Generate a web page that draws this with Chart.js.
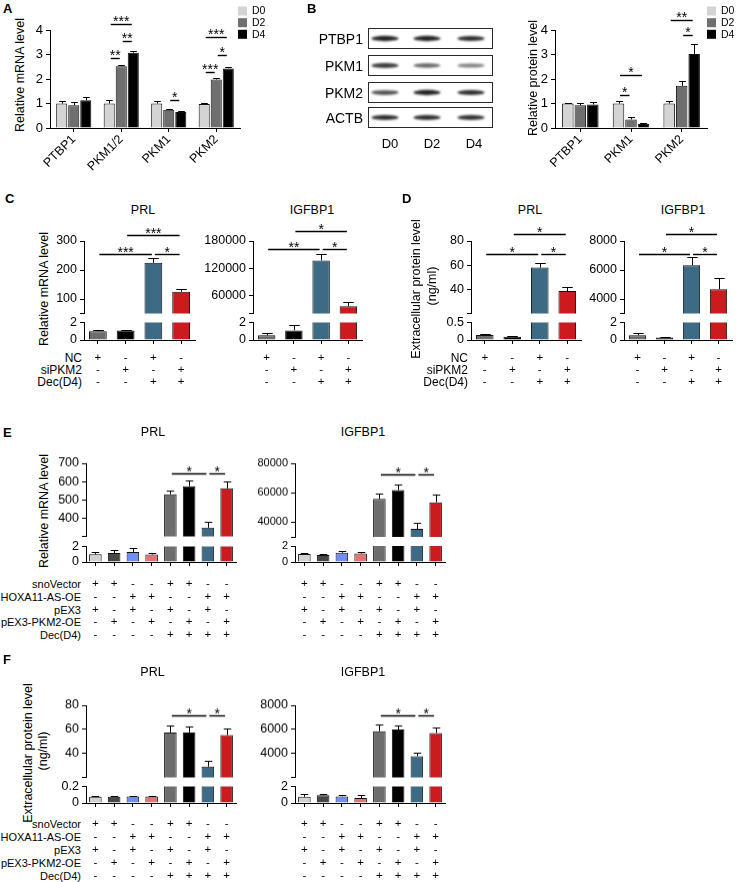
<!DOCTYPE html>
<html>
<head>
<meta charset="utf-8">
<title>PKM2 figure</title>
<script src="https://cdn.jsdelivr.net/npm/chart.js@4.4.1/dist/chart.umd.min.js"></script>
<style>
  html, body { margin: 0; padding: 0; background: #fff; }
  body { position: relative; width: 739px; height: 882px; overflow: hidden; }
  canvas { position: absolute; }
</style>
</head>
<body>
<script>
const FONT = '"Liberation Sans", Arial, Helvetica, sans-serif';

// A: relative mRNA level during decidualization
const dayLabels = ["D0", "D2", "D4"];
const dayColors = ["#d4d4d4", "#6f6f6f", "#000000"];
const mrnaGenes = ["PTBP1", "PKM1/2", "PKM1", "PKM2"];
const mrnaD0 = [1.00, 1.00, 1.00, 0.98];
const mrnaD0Err = [0.10, 0.15, 0.12, 0.03];
const mrnaD2 = [0.93, 2.52, 0.75, 1.98];
const mrnaD2Err = [0.12, 0.05, 0.03, 0.07];
const mrnaD4 = [1.13, 3.07, 0.65, 2.43];
const mrnaD4Err = [0.13, 0.08, 0.04, 0.05];
// [category, series a, series b, height, label]
const mrnaSig = [[1, 0, 1, 2.86, "**"], [1, 1, 2, 3.55, "**"], [1, 0, 2, 4.24, "***"],
                 [2, 1, 2, 1.14, "*"], [3, 0, 1, 2.3, "***"], [3, 1, 2, 3.0, "*"], [3, 0, 2, 3.7, "***"]];
const abTicks = [0, 1, 2, 3, 4];

// B: western blot + relative protein level
const blotRows = ["PTBP1", "PKM1", "PKM2", "ACTB"];
const blotBands = [[0.95, 0.95, 0.9], [0.85, 0.65, 0.55], [0.75, 0.95, 0.9], [0.9, 0.9, 0.88]];
const protGenes = ["PTBP1", "PKM1", "PKM2"];
const protD0 = [1.00, 1.00, 1.00];
const protD0Err = [0.04, 0.09, 0.10];
const protD2 = [0.93, 0.35, 1.72];
const protD2Err = [0.11, 0.08, 0.18];
const protD4 = [0.96, 0.16, 3.02];
const protD4Err = [0.09, 0.03, 0.40];
const protSig = [[1, 0, 1, 1.35, "*"], [1, 0, 2, 2.16, "*"], [2, 0, 2, 4.4, "**"], [2, 1, 2, 3.8, "*"]];

// C / D: siPKM2 knockdown
const kdRows = ["NC", "siPKM2", "Dec(D4)"];
const kdNC = ["+", "-", "+", "-"];
const kdSi = ["-", "+", "-", "+"];
const kdDec = ["-", "-", "+", "+"];
const kdColors = ["#6d6d6d", "#000000", "#3d6a85", "#cc1b1f"];
const cPrl = [1.0, 1.1, 225, 125];
const cPrlErr = [0.15, 0.1, 15, 8];
const cPrlSig = [[0, 2, 256, "***"], [2, 3, 256, "*"], [1, 3, 322, "***"]];
const cIgf = [0.55, 1.1, 137000, 36000];
const cIgfErr = [0.25, 0.6, 15000, 10000];
const cIgfSig = [[0, 2, 163000, "**"], [2, 3, 163000, "*"], [1, 3, 203000, "*"]];
const dPrl = [0.14, 0.09, 58, 38.6];
const dPrlErr = [0.02, 0.015, 4.1, 3.6];
const dPrlSig = [[0, 2, 69, "*"], [2, 3, 69, "*"], [1, 3, 85.6, "*"]];
const dIgf = [0.55, 0.28, 6330, 4680];
const dIgfErr = [0.25, 0.12, 560, 740];
const dIgfSig = [[0, 2, 7120, "*"], [2, 3, 7120, "*"], [1, 3, 8470, "*"]];

// E / F: HOXA11-AS and PKM2 overexpression
const oeRows = ["snoVector", "HOXA11-AS-OE", "pEX3", "pEX3-PKM2-OE", "Dec(D4)"];
const oeSno = ["+", "+", "-", "-", "+", "+", "-", "-"];
const oeHox = ["-", "-", "+", "+", "-", "-", "+", "+"];
const oePex = ["+", "-", "+", "-", "+", "-", "+", "-"];
const oePkm = ["-", "+", "-", "+", "-", "+", "-", "+"];
const oeDec = ["-", "-", "-", "-", "+", "+", "+", "+"];
const oeColors = ["#d2d2d2", "#474747", "#6f8ff2", "#e27474", "#6d6d6d", "#000000", "#3d6a85", "#cc1b1f"];
const ePrl = [1.0, 1.16, 1.28, 0.96, 531, 575, 348, 563];
const ePrlErr = [0.25, 0.45, 0.55, 0.2, 20, 29, 34, 40];
const ePrlSig = [[4, 6, 647, "*"], [6, 7, 647, "*"]];
const eIgf = [1.0, 0.88, 1.16, 1.05, 55800, 61800, 35500, 53500];
const eIgfErr = [0.15, 0.1, 0.2, 0.2, 3800, 3500, 4100, 5300];
const eIgfSig = [[4, 6, 72700, "*"], [6, 7, 72700, "*"]];
const fPrl = [0.075, 0.077, 0.08, 0.078, 57.4, 57.4, 29.0, 55.2];
const fPrlErr = [0.005, 0.005, 0.008, 0.006, 5.5, 4.6, 4.7, 5.5];
const fPrlSig = [[4, 6, 71.2, "*"], [6, 7, 71.2, "*"]];
const fIgf = [0.75, 0.94, 0.8, 0.6, 5840, 5980, 3760, 5700];
const fIgfErr = [0.3, 0.2, 0.23, 0.38, 570, 320, 320, 490];
const fIgfSig = [[4, 6, 7140, "*"], [6, 7, 7140, "*"]];

Chart.defaults.font.family = FONT;
Chart.defaults.font.size = 12;
Chart.defaults.color = "#000";
Chart.defaults.animation = false;
Chart.defaults.plugins.legend.display = false;
Chart.defaults.plugins.tooltip.enabled = false;

function mkCanvas(left, top, w, h) {
  const c = document.createElement("canvas");
  c.width = w; c.height = h;
  c.style.left = left + "px"; c.style.top = top + "px";
  c.style.width = w + "px"; c.style.height = h + "px";
  document.body.appendChild(c);
  return c;
}

function txt(s, x, y, o = {}) {
  const d = document.createElement("div");
  d.textContent = s;
  const tx = o.align === "right" ? "-100%" : o.align === "left" ? "0" : "-50%";
  d.style.cssText = "position:absolute;white-space:nowrap;line-height:1;color:#000;" +
    "left:" + x + "px;top:" + y + "px;font:" + (o.bold ? "bold " : "") + (o.size || 12) + "px " + FONT + ";" +
    "transform:translate(" + tx + ",-50%)" + (o.rot ? " rotate(-90deg)" : "") + ";";
  document.body.appendChild(d);
}

// error bars, significance lines and legend
const annot = {
  id: "annot",
  afterDatasetsDraw(chart, args, opts) {
    const ctx = chart.ctx, ys = chart.scales.y;
    ctx.save();
    ctx.strokeStyle = "#000";
    ctx.fillStyle = "#000";
    ctx.lineWidth = 1;
    chart.data.datasets.forEach((ds, di) => {
      if (!ds.errors) return;
      chart.getDatasetMeta(di).data.forEach((bar, i) => {
        const v = ds.data[i];
        if (v < ys.min || v > ys.max) return;
        const x = Math.round(bar.x) + 0.5;
        const y0 = ys.getPixelForValue(v);
        const y1 = Math.round(ys.getPixelForValue(v + ds.errors[i])) + 0.5;
        const hw = bar.width * 0.3;
        ctx.beginPath();
        ctx.moveTo(x, y0); ctx.lineTo(x, y1);
        ctx.moveTo(x - hw, y1); ctx.lineTo(x + hw, y1);
        ctx.stroke();
      });
    });
    (opts.sig || []).forEach(s => {
      const a = chart.getDatasetMeta(s.a[0]).data[s.a[1]];
      const b = chart.getDatasetMeta(s.b[0]).data[s.b[1]];
      const y = Math.round(ys.getPixelForValue(s.y)) + 0.5;
      ctx.lineWidth = 1.4;
      ctx.beginPath();
      ctx.moveTo(a.x + 1.5, y); ctx.lineTo(b.x - 1.5, y);
      ctx.stroke();
      ctx.font = (opts.starSize || 14) + "px " + FONT;
      ctx.textAlign = "center";
      ctx.textBaseline = "alphabetic";
      ctx.fillText(s.t, (a.x + b.x) / 2, y + (opts.starDy || 2));
    });
    if (opts.legend) {
      const lg = opts.legend;
      const ox = parseFloat(chart.canvas.style.left), oy = parseFloat(chart.canvas.style.top);
      ctx.font = "10.5px " + FONT;
      ctx.textAlign = "left";
      ctx.textBaseline = "middle";
      chart.data.datasets.forEach((ds, k) => {
        const cy = lg.y[k] - oy;
        ctx.fillStyle = ds.backgroundColor;
        ctx.fillRect(lg.x - ox, cy - 4.5, 9, 9);
        ctx.fillStyle = "#000";
        ctx.fillText(ds.label, lg.tx - ox, cy + 0.5);
      });
    }
    ctx.restore();
  }
};

function yAxis(o) {
  return {
    min: o.min, max: o.max,
    afterBuildTicks: s => { s.ticks = o.ticks.map(v => ({ value: v })); },
    afterFit: s => { s.width = o.L; },
    ticks: {
      autoSkip: false, padding: 3, color: "#000", font: { size: o.tickSize || 12.5 },
      callback: v => (o.hide && o.hide.includes(v)) ? "" : String(v)
    },
    grid: { display: true, drawOnChartArea: false, drawTicks: true, tickLength: 4, color: "#000", lineWidth: 1 },
    border: { display: true, color: "#000", width: 1 }
  };
}

function grouped(o) {
  const W = o.L + (o.x1 - o.x0) + o.R;
  const H = o.T + (o.yBot - o.yTop) + o.B;
  const cv = mkCanvas(o.x0 - o.L, o.yTop - o.T, W, H);
  return new Chart(cv, {
    type: "bar",
    data: {
      labels: o.labels,
      datasets: o.series.map((s, k) => ({
        label: dayLabels[k], data: s[0], errors: s[1],
        backgroundColor: dayColors[k], borderColor: "#111", borderWidth: 1,
        categoryPercentage: o.catPct, barPercentage: 0.92
      }))
    },
    options: {
      responsive: false, devicePixelRatio: 1,
      layout: { padding: { left: 0, right: o.R, top: o.T, bottom: 0 } },
      scales: {
        x: {
          grid: { display: true, drawOnChartArea: false, drawTicks: true, tickLength: 4, offset: false, color: "#000" },
          border: { display: true, color: "#000", width: 1 },
          ticks: { autoSkip: false, minRotation: 45, maxRotation: 45, padding: 0, color: "#000", font: { size: 12.5 } },
          afterFit: s => { s.height = o.B; }
        },
        y: yAxis({ min: 0, max: 4, ticks: abTicks, L: o.L, tickSize: 13 })
      },
      plugins: {
        annot: {
          sig: o.sig.map(s => ({ a: [s[1], s[0]], b: [s[2], s[0]], y: s[3], t: s[4] })),
          legend: o.legend, starSize: 14, starDy: 1
        }
      }
    },
    plugins: [annot]
  });
}

function segChart(o) {
  const W = o.L + (o.x1 - o.x0) + o.R;
  const H = o.T + (o.yBot - o.yTop) + o.B;
  const cv = mkCanvas(o.x0 - o.L, o.yTop - o.T, W, H);
  const x = o.showX ? {
    grid: { display: true, drawOnChartArea: false, drawTicks: true, tickLength: 4, offset: false, color: "#000" },
    border: { display: true, color: "#000", width: 1 },
    ticks: { autoSkip: false, minRotation: 0, maxRotation: 0, padding: o.rowPad, color: "#000",
             font: { size: 11.5, lineHeight: o.rowLH / 11.5 } },
    afterFit: s => { s.height = o.B; }
  } : { display: false };
  return new Chart(cv, {
    type: "bar",
    data: {
      labels: o.labels,
      datasets: [{
        data: o.values, errors: o.errors, backgroundColor: o.colors,
        borderColor: "#111", borderWidth: 1, categoryPercentage: 1, barPercentage: o.barPct
      }]
    },
    options: {
      responsive: false, devicePixelRatio: 1,
      layout: { padding: { left: 0, right: o.R, top: o.T, bottom: o.showX ? 0 : o.B } },
      scales: { x: x, y: yAxis(o) },
      plugins: { annot: { sig: o.sig || [], starSize: 14, starDy: 2 } }
    },
    plugins: [annot]
  });
}

function brokenPanel(p) {
  const labels = p.values.map((_, i) => p.rows.map(r => r[i]));
  const common = { x0: p.x0, x1: p.x1, L: 58, R: 6, labels: labels, values: p.values, errors: p.errors,
                   colors: p.colors, barPct: p.barPct, tickSize: p.tickSize };
  segChart(Object.assign({}, common, {
    yTop: p.top[0], yBot: p.top[1], min: p.topRange[0], max: p.topRange[1],
    ticks: [p.topRange[0]].concat(p.topTicks), hide: [p.topRange[0]], T: 30, B: 10, showX: false,
    sig: p.sig.map(s => ({ a: [0, s[0]], b: [0, s[1]], y: s[2], t: s[3] }))
  }));
  segChart(Object.assign({}, common, {
    yTop: p.bot[0], yBot: p.bot[1], min: 0, max: p.botMax, ticks: [0, p.botMax], hide: [],
    T: 10, B: p.B, showX: true, rowPad: p.rowPad, rowLH: p.rowLH
  }));
}

function drawBlot() {
  const cv = mkCanvas(360, 20, 140, 115);
  const ctx = cv.getContext("2d");
  const rowTop = [28, 55, 82, 107];
  const laneX = [385, 427, 471];
  blotRows.forEach((name, r) => {
    const top = rowTop[r] - 20;
    blotBands[r].forEach((s, k) => {
      ctx.save();
      ctx.filter = "blur(1.1px)";
      ctx.fillStyle = "rgba(25,25,25," + s + ")";
      ctx.beginPath();
      ctx.ellipse(laneX[k] - 360, top + 10.5, 13.5, 1.4 + 1.3 * s, 0, 0, Math.PI * 2);
      ctx.fill();
      ctx.restore();
    });
    ctx.strokeStyle = "#2a2a2a";
    ctx.lineWidth = 1;
    ctx.strokeRect(8.5, top + 0.5, 124, 20);
    txt(name, 363, rowTop[r] + 11, { align: "right", size: 14 });
  });
  ["D0", "D2", "D4"].forEach((d, k) => txt(d, [390, 432, 474][k], 143, { size: 13 }));
}

// ---------- panel A ----------
txt("A", 3, 8, { align: "left", bold: true, size: 13 });
txt("Relative mRNA level", 20, 75, { rot: true, size: 12.5 });
grouped({
  x0: 50, x1: 240, yTop: 30, yBot: 128, L: 50, R: 70, T: 30, B: 50, catPct: 0.76,
  labels: mrnaGenes,
  series: [[mrnaD0, mrnaD0Err], [mrnaD2, mrnaD2Err], [mrnaD4, mrnaD4Err]],
  sig: mrnaSig, legend: { x: 238, tx: 252, y: [11, 22.7, 34.3] }
});

// ---------- panel B ----------
txt("B", 307, 8, { align: "left", bold: true, size: 13 });
drawBlot();
txt("Relative protein level", 533, 78, { rot: true, size: 12.5 });
grouped({
  x0: 555, x1: 707, yTop: 30, yBot: 128, L: 45, R: 32, T: 30, B: 50, catPct: 0.74,
  labels: protGenes,
  series: [[protD0, protD0Err], [protD2, protD2Err], [protD4, protD4Err]],
  sig: protSig, legend: { x: 707, tx: 721, y: [11, 22.7, 34.3] }
});

// ---------- panel C ----------
txt("C", 5, 198, { align: "left", bold: true, size: 13 });
txt("PRL", 143, 210, { size: 12.5 });
txt("IGFBP1", 312, 210, { size: 12.5 });
txt("Relative mRNA level", 44, 289, { rot: true, size: 12.5 });
kdRows.forEach((r, i) => txt(r, 82, 358 + 12 * i, { align: "right", size: 12 }));
brokenPanel({
  x0: 84, x1: 195, top: [241, 314], topRange: [50, 300], topTicks: [100, 200, 300],
  bot: [322, 340], botMax: 2, values: cPrl, errors: cPrlErr, colors: kdColors, sig: cPrlSig,
  rows: [kdNC, kdSi, kdDec], rowPad: 8, rowLH: 12, B: 52, barPct: 0.64
});
brokenPanel({
  x0: 253, x1: 362, top: [241, 314], topRange: [20000, 180000], topTicks: [60000, 120000, 180000],
  bot: [322, 340], botMax: 2, values: cIgf, errors: cIgfErr, colors: kdColors, sig: cIgfSig,
  rows: [kdNC, kdSi, kdDec], rowPad: 8, rowLH: 12, B: 52, barPct: 0.64
});

// ---------- panel D ----------
txt("D", 402, 198, { align: "left", bold: true, size: 13 });
txt("PRL", 530, 210, { size: 12.5 });
txt("IGFBP1", 683, 210, { size: 12.5 });
txt("Extracellular protein level", 416, 289, { rot: true, size: 12.5 });
txt("(ng/ml)", 432, 286, { rot: true, size: 12.5 });
kdRows.forEach((r, i) => txt(r, 468, 358 + 12 * i, { align: "right", size: 12 }));
brokenPanel({
  x0: 471, x1: 581, top: [241, 314], topRange: [20, 80], topTicks: [40, 60, 80],
  bot: [322, 340], botMax: 0.5, values: dPrl, errors: dPrlErr, colors: kdColors, sig: dPrlSig,
  rows: [kdNC, kdSi, kdDec], rowPad: 8, rowLH: 12, B: 52, barPct: 0.64
});
brokenPanel({
  x0: 624, x1: 732, top: [241, 314], topRange: [3000, 8000], topTicks: [4000, 6000, 8000],
  bot: [322, 340], botMax: 2, values: dIgf, errors: dIgfErr, colors: kdColors, sig: dIgfSig,
  rows: [kdNC, kdSi, kdDec], rowPad: 8, rowLH: 12, B: 52, barPct: 0.64
});

// ---------- panel E ----------
txt("E", 3, 432, { align: "left", bold: true, size: 13 });
txt("PRL", 153, 432, { size: 12.5 });
txt("IGFBP1", 363, 432, { size: 12.5 });
txt("Relative mRNA level", 44, 511, { rot: true, size: 12.5 });
oeRows.forEach((r, i) => txt(r, 81, 584.3 + 12.7 * i, { align: "right", size: 11 }));
const oeSymbols = [oeSno, oeHox, oePex, oePkm, oeDec];
brokenPanel({
  x0: 86, x1: 236, top: [463, 536.7], topRange: [300, 700], topTicks: [400, 500, 600, 700],
  bot: [545.7, 562.3], botMax: 2, values: ePrl, errors: ePrlErr, colors: oeColors, sig: ePrlSig,
  rows: oeSymbols, rowPad: 11.6, rowLH: 12.7, B: 80, barPct: 0.67
});
brokenPanel({
  x0: 295, x1: 445, top: [463, 536.7], topRange: [30000, 80000], topTicks: [40000, 60000, 80000],
  bot: [545.7, 562.3], botMax: 2, values: eIgf, errors: eIgfErr, colors: oeColors, sig: eIgfSig,
  rows: oeSymbols, rowPad: 11.6, rowLH: 12.7, B: 80, barPct: 0.67, tickSize: 11
});

// ---------- panel F ----------
txt("F", 3, 659, { align: "left", bold: true, size: 13 });
txt("PRL", 152.5, 672, { size: 12.5 });
txt("IGFBP1", 363, 672, { size: 12.5 });
txt("Extracellular protein level", 27.5, 753, { rot: true, size: 12.5 });
txt("(ng/ml)", 42.5, 751, { rot: true, size: 12.5 });
oeRows.forEach((r, i) => txt(r, 81, 824.3 + 12.85 * i, { align: "right", size: 11 }));
brokenPanel({
  x0: 86, x1: 236, top: [705, 777.7], topRange: [20, 80], topTicks: [40, 60, 80],
  bot: [785.7, 803.3], botMax: 0.2, values: fPrl, errors: fPrlErr, colors: oeColors, sig: fPrlSig,
  rows: oeSymbols, rowPad: 10.6, rowLH: 12.85, B: 80, barPct: 0.67
});
brokenPanel({
  x0: 295, x1: 445, top: [705, 777.7], topRange: [2000, 8000], topTicks: [4000, 6000, 8000],
  bot: [785.7, 803.3], botMax: 2, values: fIgf, errors: fIgfErr, colors: oeColors, sig: fIgfSig,
  rows: oeSymbols, rowPad: 10.6, rowLH: 12.85, B: 80, barPct: 0.67
});
</script>
</body>
</html>
